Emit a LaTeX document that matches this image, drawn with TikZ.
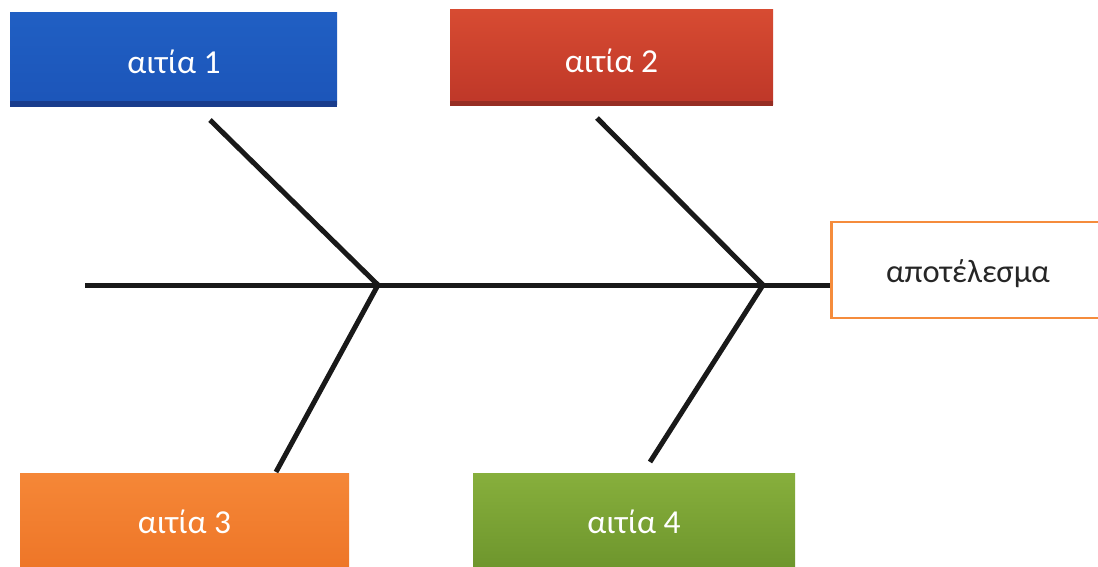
\documentclass[tikz,border=0pt]{standalone}
\usepackage{fontspec}
\setmainfont{Carlito}
\definecolor{bluetop}{RGB}{32,95,195}
\definecolor{bluebot}{RGB}{28,85,185}
\definecolor{blueedge}{RGB}{25,60,140}
\definecolor{redtop}{RGB}{215,75,50}
\definecolor{redbot}{RGB}{190,55,40}
\definecolor{rededge}{RGB}{150,45,35}
\definecolor{ortop}{RGB}{245,135,55}
\definecolor{orbot}{RGB}{238,118,40}
\definecolor{grtop}{RGB}{135,175,60}
\definecolor{grbot}{RGB}{110,150,45}
\definecolor{resedge}{RGB}{245,140,60}
\begin{document}
\begin{tikzpicture}[x=1pt,y=-1pt,
  cause/.style={inner sep=0pt, text=white, font=\fontsize{33.5}{36}\selectfont},
  bone/.style={line width=5pt, draw=black!90}]
\useasboundingbox (0,0) rectangle (1098,567);
\fill[white] (0,0) rectangle (1098,567);
% cause boxes
\shade[top color=bluetop, bottom color=bluebot] (10,13) rectangle (337,105);
\fill[blueedge] (10,101) rectangle (337,107);
\node[cause] (c1) at (174,62) {αιτία 1};

\shade[top color=redtop, bottom color=redbot] (450,10) rectangle (773,105);
\fill[rededge] (450,101) rectangle (773,106);
\node[cause] (c2) at (611.5,61) {αιτία 2};

\shade[top color=ortop, bottom color=orbot] (20,473) rectangle (349,567);
\node[cause] (c3) at (184.5,522) {αιτία 3};

\shade[top color=grtop, bottom color=grbot] (473,473) rectangle (795,567);
\node[cause] (c4) at (634,522) {αιτία 4};

% result box
\node[draw=resedge, line width=2.5pt, fill=white, minimum width=280pt, minimum height=96pt, anchor=west, inner sep=0pt] (res) at (830,270) {};
\node[font=\fontsize{32.5}{36}\selectfont, text=black!85] (restext) at (968,274) {αποτέλεσμα};

% skeleton
\coordinate (tail) at (85,285);
\coordinate (j1) at (378,285);
\coordinate (j2) at (763,285);
\coordinate (u1) at (210,120);
\coordinate (u2) at (597,118);
\coordinate (l1) at (276,472);
\coordinate (l2) at (650,462);
\draw[bone] (tail) -- (j1) -- (j2) -- (res.west |- j2);
\draw[bone] (u1) -- (j1) -- (l1);
\draw[bone] (u2) -- (j2) -- (l2);
\end{tikzpicture}
\end{document}
